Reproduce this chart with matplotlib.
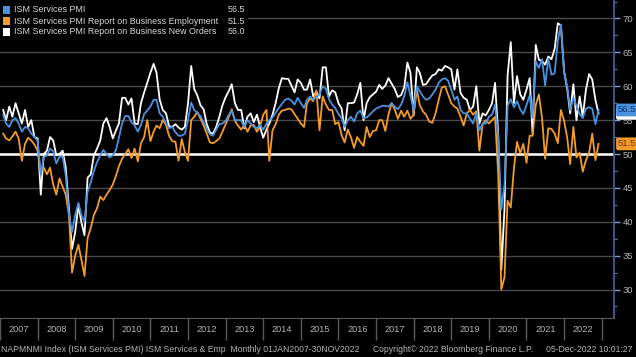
import numpy as np
import pandas as pd
import matplotlib
matplotlib.use("Agg")
import matplotlib.pyplot as plt
from matplotlib.patches import Rectangle
from matplotlib.ticker import MultipleLocator, FixedLocator, NullFormatter

plt.rcParams['font.family'] = ['Liberation Sans', 'DejaVu Sans']

# monthly values, Jan 2007 - Nov 2022
pmi = [
    55.8, 54.5, 54.0, 55.0, 55.3, 54.5, 53.3, 54.0, 53.8, 53.0, 52.5, 52.0,  # 2007
    47.0, 49.5, 49.8, 50.8, 50.4, 48.6, 49.6, 49.6, 46.8, 41.0, 38.5, 41.0,  # 2008
    42.8, 41.0, 40.0, 44.5, 45.8, 47.5, 48.8, 49.8, 50.6, 50.0, 49.5, 49.8,  # 2009
    50.6, 52.4, 54.5, 55.6, 55.6, 54.7, 54.2, 53.3, 54.3, 55.9, 56.4, 57.0,  # 2010
    58.0, 58.0, 56.0, 55.5, 54.5, 53.8, 54.0, 53.2, 52.7, 52.7, 53.0, 55.0,  # 2011
    57.6, 56.5, 56.0, 55.6, 54.7, 53.7, 52.9, 52.7, 53.6, 54.4, 54.5, 54.9,  # 2012
    55.8, 56.4, 55.0, 55.0, 55.0, 54.0, 55.0, 54.5, 54.0, 53.8, 54.3, 53.6,  # 2013
    54.5, 55.0, 55.4, 56.1, 56.8, 57.4, 58.0, 58.2, 57.9, 57.3, 58.3, 57.5,  # 2014
    56.8, 58.0, 58.5, 58.0, 58.4, 58.8, 60.0, 59.6, 58.1, 57.3, 56.8, 55.9,  # 2015
    55.3, 54.0, 55.0, 55.5, 54.8, 56.0, 56.4, 55.3, 55.4, 55.8, 56.3, 56.7,  # 2016
    56.9, 57.1, 57.1, 57.0, 57.5, 57.0, 56.6, 57.3, 58.5, 60.6, 58.6, 56.5,  # 2017
    60.0, 59.3, 58.5, 58.0, 58.2, 58.8, 59.5, 60.5, 61.0, 61.2, 60.8, 59.5,  # 2018
    58.0, 58.5, 56.5, 56.0, 56.0, 55.2, 54.5, 56.0, 53.5, 54.5, 54.5, 55.5,  # 2019
    55.8, 57.3, 52.5, 41.8, 45.4, 57.1, 58.1, 56.9, 57.8, 56.6, 55.9, 57.2,  # 2020
    58.7, 55.3, 63.7, 62.7, 64.0, 60.1, 64.1, 61.7, 61.9, 66.7, 69.1, 62.0,  # 2021
    59.9, 56.5, 58.3, 57.1, 55.9, 55.3, 56.7, 56.9, 56.7, 54.4, 56.5,        # 2022
]
employment = [
    53.0, 52.3, 52.0, 52.6, 53.3, 52.3, 49.0, 51.5, 52.4, 52.0, 51.4, 50.5,
    47.3, 48.0, 47.0, 48.0, 45.5, 44.0, 46.4, 45.2, 44.0, 41.0, 32.5, 35.0,
    36.6, 34.5, 32.0, 37.6, 39.1, 41.0, 42.0, 43.7, 43.2, 44.0, 44.7, 45.5,
    46.8, 48.2, 49.3, 50.0, 50.7, 49.4, 50.8, 48.9, 51.6, 52.5, 55.0, 51.9,
    53.3, 54.2, 53.8, 55.0, 54.3, 52.7, 51.9, 51.8, 49.0, 52.2, 50.3, 49.0,
    55.0, 55.5, 56.2, 55.2, 54.2, 53.0, 51.7, 51.6, 51.9, 52.3, 53.3, 54.4,
    55.5, 56.6, 54.9, 54.2, 53.6, 54.3, 53.3, 54.2, 54.3, 53.3, 54.1, 55.8,
    56.5, 49.0, 53.5, 54.4, 55.8, 56.4, 56.5, 56.7, 56.6, 55.9, 55.2, 54.5,
    54.0, 57.5, 58.2, 57.8, 59.4, 53.5, 58.5, 57.3, 56.5, 56.5, 54.4, 54.7,
    52.8, 51.7, 53.6, 52.5, 50.9, 52.5, 51.8, 51.2, 54.0, 52.5, 53.4, 53.5,
    55.0, 55.0, 53.4, 55.8, 57.5, 56.6, 55.2, 56.4, 55.5, 56.4, 55.2, 55.8,
    59.5, 57.2, 56.3, 55.8, 54.8, 54.6, 56.0, 58.0, 59.8, 60.0, 58.8, 57.5,
    57.0, 56.7, 55.5, 54.2, 56.0, 56.5, 55.8, 56.3, 50.5, 54.4, 55.0, 54.5,
    55.0, 55.5, 47.0, 30.0, 31.8, 43.1, 42.1, 47.9, 51.8, 50.1, 51.5, 48.7,
    52.7, 52.7, 57.2, 58.8, 55.3, 49.3, 53.8, 53.7, 53.0, 51.6, 56.5, 54.9,
    52.3, 48.5, 54.0, 49.5, 50.2, 47.4, 49.1, 50.2, 53.0, 49.1, 51.5,
]
new_orders = [
    56.5, 55.0, 57.0, 55.5, 57.5, 56.0, 54.5, 56.5, 54.0, 55.0, 52.5, 52.3,
    44.0, 50.0, 50.5, 52.5, 52.0, 49.8, 50.0, 50.5, 48.0, 42.0, 36.0, 38.5,
    42.5, 40.0, 38.0, 46.5, 47.0, 49.8, 50.8, 52.0, 54.5, 55.3, 54.0, 52.3,
    53.5, 54.5, 58.3, 58.3, 57.3, 58.2, 54.5, 54.4, 57.5, 59.1, 60.5, 62.0,
    63.3, 62.0, 58.0, 56.5, 56.0, 54.1, 54.0, 54.4, 53.9, 53.6, 54.0, 57.5,
    63.0, 59.6, 58.6, 57.2, 56.6, 54.4, 53.2, 53.0, 54.0, 55.5, 57.2, 58.4,
    59.3, 60.3, 57.5, 56.5, 56.5, 53.8, 55.5, 56.0, 54.7, 55.8, 54.0, 52.4,
    53.6, 54.5, 55.8, 57.5, 59.7, 61.2, 61.1, 61.1, 60.1, 59.1, 61.0, 60.5,
    59.5, 59.5, 61.0, 58.5, 59.2, 58.2, 62.8, 62.8, 58.5, 59.4, 59.1, 57.5,
    56.7, 53.5, 57.5, 57.5, 57.6, 58.8, 60.5, 55.0, 57.5, 58.4, 58.8, 59.2,
    60.2, 59.6, 60.1, 61.2, 60.4, 59.6, 58.4, 58.7, 59.8, 63.5, 62.0, 55.7,
    62.8, 62.0, 60.2, 60.3, 61.0, 61.6, 61.8, 62.5, 62.3, 63.0, 62.8, 62.5,
    59.5, 62.5, 59.0, 58.3, 58.0, 56.5, 57.0, 60.0, 54.5, 56.0, 55.7, 56.5,
    57.5, 60.5, 52.9, 32.9, 41.9, 61.6, 66.5, 57.5, 61.5, 58.8, 58.0, 59.5,
    61.2, 53.0, 66.1, 63.9, 63.7, 63.2, 64.4, 64.0, 65.5, 69.3, 69.0, 62.2,
    59.5, 56.0, 60.3, 55.0, 58.5, 55.5, 59.5, 61.8, 61.0, 58.0, 56.0,
]

names = ["ISM Services PMI",
         "ISM Services PMI Report on Business Employment",
         "ISM Services PMI Report on Business New Orders"]
last_vals = ["56.5", "51.5", "56.0"]
years = list(range(2007, 2023))

BLUE = '#4a92e0'
ORANGE = '#f39c2c'
WHITE = '#ffffff'
GRID = '#4a4a4a'
TXT = '#b4b4b4'

# month-end positions as decimal years
dates = pd.date_range('2007-01-31', periods=len(pmi), freq='ME')
xs = dates.year + dates.dayofyear / np.where(dates.is_leap_year, 366, 365)

W, H = 636, 357
fig = plt.figure(figsize=(W / 100, H / 100), dpi=100, facecolor='black')
ax = fig.add_axes([0, 1 - 318 / H, 614 / W, 318 / H], facecolor='black')

ax.plot(xs, new_orders, color=WHITE, lw=1.3, zorder=3)
ax.plot(xs, employment, color=ORANGE, lw=1.3, zorder=4)
ax.plot(xs, pmi, color=BLUE, lw=1.3, zorder=5)
ax.axhline(50, color='white', lw=1.8, zorder=2)

ax.set_xlim(2007.077, 2023.327)
ax.set_ylim(25.8, 72.73)

# y axis on the right
ax.yaxis.tick_right()
ax.yaxis.set_major_locator(FixedLocator(np.arange(30, 71, 5)))
ax.yaxis.set_minor_locator(MultipleLocator(2.5))
ax.grid(axis='y', which='major', color=GRID, lw=1.0, zorder=1)
ax.tick_params(axis='y', which='major', colors='#7f9fd0', length=4, width=1,
               labelcolor=TXT, labelsize=6.8, pad=2)
ax.tick_params(axis='y', which='minor', colors='#6080b0', length=2, width=0.8)

# x axis: separators at year boundaries, labels centered within each year
ax.set_xticks(years + [2023])
ax.xaxis.set_major_formatter(NullFormatter())
ax.set_xticks([y + 0.5 for y in years], minor=True)
ax.set_xticklabels([str(y) for y in years], minor=True)
ax.tick_params(axis='x', which='major', colors='#5a5a5a', length=16, width=1)
ax.tick_params(axis='x', which='minor', length=0, labelcolor=TXT,
               labelsize=6.6, pad=5)

for s in ['left', 'top']:
    ax.spines[s].set_visible(False)
ax.spines['right'].set_color('#3f5f95')
ax.spines['right'].set_linewidth(1.3)
ax.spines['bottom'].set_color('#5a5a5a')

# legend panel
fig.add_artist(Rectangle((0, 1 - 42 / H), 248 / W, 42 / H, transform=fig.transFigure,
                         facecolor='black', edgecolor='none', zorder=5))
for k, (name, val, col) in enumerate(zip(names, last_vals, [BLUE, ORANGE, WHITE])):
    yc = 1 - (10 + 11 * k) / H
    fig.add_artist(Rectangle((3 / W, yc - 3.5 / H), 7 / W, 7 / H,
                             transform=fig.transFigure, facecolor=col,
                             edgecolor='none', zorder=6))
    fig.text(14 / W, yc, name, color='#d8d8d8', fontsize=6.4, va='center',
             ha='left', zorder=6)
    fig.text(245 / W, yc, val, color='#d8d8d8', fontsize=6.4, va='center',
             ha='right', zorder=6)

# last value tags on the right axis
tag_specs = [(new_orders[-1], last_vals[2], WHITE, '#222222'),
             (employment[-1], last_vals[1], ORANGE, '#7a2a00'),
             (pmi[-1], last_vals[0], BLUE, '#10306a')]
for v, s, bg, fg in tag_specs:
    yf = ax.transData.transform((0, v))[1] / H
    fig.text(618 / W, yf, s, color=fg, fontsize=6.8, va='center', ha='left',
             bbox=dict(boxstyle='round,pad=0.2', facecolor=bg, edgecolor='none'),
             zorder=10)

# footer
foot_y = 1 - 350 / H
fig.text(1 / W, foot_y, "NAPMNMI Index (ISM Services PMI) ISM Services & Emp  Monthly 01JAN2007-30NOV2022",
         color=TXT, fontsize=6.2, va='center', ha='left')
fig.text(373 / W, foot_y, "Copyright\u00a9 2022 Bloomberg Finance L.P.",
         color=TXT, fontsize=6.2, va='center', ha='left')
fig.text(546 / W, foot_y, "05-Dec-2022 10:01:27",
         color=TXT, fontsize=6.2, va='center', ha='left')

fig.savefig('out.png', dpi=100, facecolor='black')
